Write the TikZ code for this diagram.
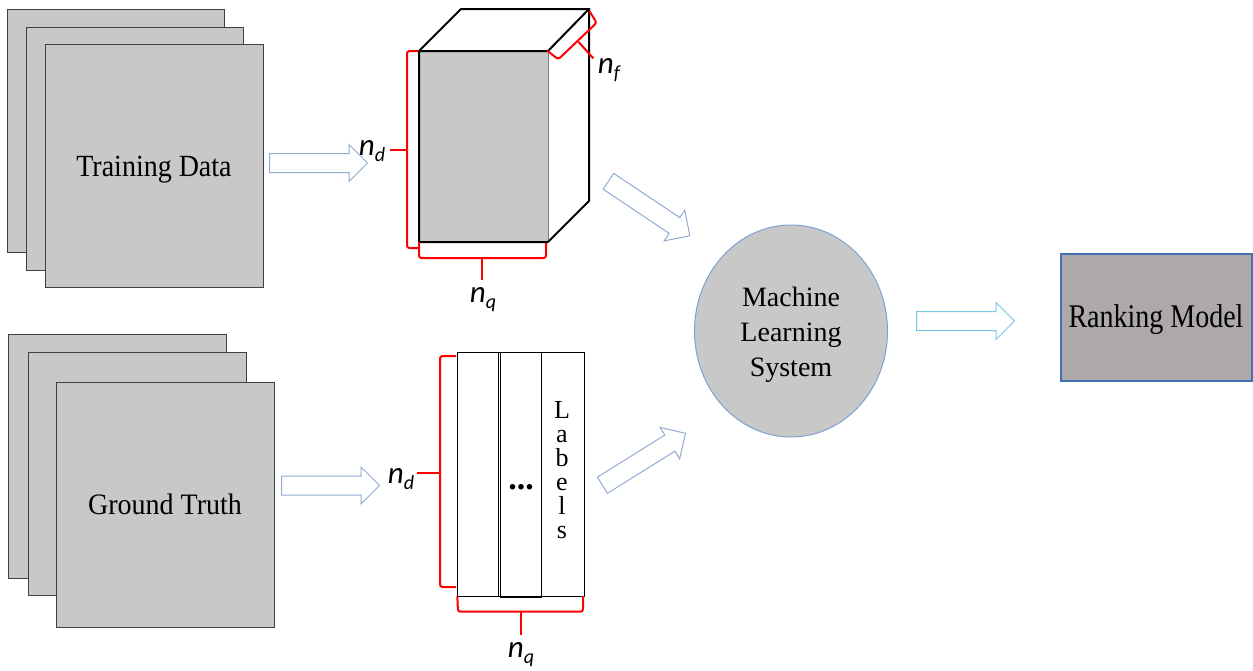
\documentclass[tikz,border=0pt]{standalone}
\usepackage{fontspec}
\setmainfont{Liberation Serif}
\newfontfamily\calfont{Carlito}
\usetikzlibrary{shapes.geometric,shapes.arrows}

\definecolor{pagegray}{RGB}{200,200,200}
\definecolor{pageedge}{RGB}{64,64,64}
\definecolor{modelgray}{RGB}{173,169,168}
\definecolor{modeledge}{RGB}{65,113,177}
\definecolor{flowblue}{RGB}{145,172,212}
\definecolor{flowcyan}{RGB}{120,198,232}
\definecolor{ellipseedge}{RGB}{125,163,206}
\definecolor{bracered}{RGB}{255,0,0}

% dimension label: italic n with a lowered index
\newcommand{\dimlabel}[1]{{\calfont\itshape n\raisebox{-6pt}{\fontsize{20}{20}\selectfont #1}}}

\begin{document}
\begin{tikzpicture}[x=1pt,y=-1pt,
  page/.style={draw=pageedge, fill=pagegray, line width=1.2pt, anchor=north west, inner sep=0pt},
  bigtext/.style={font=\fontsize{28}{35}\selectfont},
  basetext/.style={anchor=base, inner sep=0pt, font=\fontsize{28}{35}\selectfont},
  blockarrow/.style={single arrow, draw=flowblue, fill=white, line width=1pt,
    inner xsep=0pt, inner ysep=9pt, single arrow head extend=9pt, minimum height=98pt, anchor=tail},
  brace/.style={draw=bracered, line width=2pt, rounded corners=2.5pt},
  dim/.style={inner sep=0pt, anchor=base, font=\fontsize{31}{31}\selectfont},
  thinline/.style={draw=black, line width=0.8pt}]

% canvas
\fill[white] (0,0) rectangle (1253,670);
\useasboundingbox (0,0) rectangle (1253,670);

% ---- training data stack ----
\node[page, minimum width=217pt, minimum height=243pt] (td1) at (7,9) {};
\node[page, minimum width=217pt, minimum height=243pt] (td2) at (26,27) {};
\node[page, minimum width=218pt, minimum height=243pt] (td3) at (45,44) {};
\node[basetext] (tdtext) at (154,176) {\scalebox{1}[1.1]{Training Data}};

% ---- ground truth stack ----
\node[page, minimum width=218pt, minimum height=244pt] (gt1) at (8,334) {};
\node[page, minimum width=218pt, minimum height=243pt] (gt2) at (28,352) {};
\node[page, minimum width=218pt, minimum height=245pt] (gt3) at (56,382) {};
\node[basetext] (gttext) at (165,514) {\scalebox{1}[1.06]{Ground Truth}};

% ---- feature cube ----
\fill[pagegray] (419,51) rectangle (548,242);
\draw[line width=0.8pt, gray] (548,51) -- (548,242);
\draw[line width=2pt, line join=miter] (548,242) -- (419,242) -- (419,51) -- (461,9) -- (589,9) -- (589,201) -- (548,242);
\draw[line width=2pt] (419,51) -- (548,51) -- (589,9);

% cube dimensions
\draw[brace] (418,51) -- (407,51) -- (407,248) -- (418,248);
\draw[brace] (407,150) -- (390,150);
\draw[brace] (419,242) -- (419,258) -- (546,258) -- (546,243);
\draw[brace] (482,258) -- (482,280);
\draw[brace] (547.3,50.7) -- (558.3,59.3) -- (596.7,22.7) -- (589.3,11);
\draw[brace] (578.3,41.7) -- (593.3,58.3);
\node[dim] (nd1) at (372,155) {\dimlabel{d}};
\node[dim] (nq1) at (483,302) {\dimlabel{q}};
\node[dim] (nf) at (609,73) {\dimlabel{f}};

% ---- label matrix ----
\draw[thinline] (457,352) rectangle (584,596);
\draw[thinline] (500,352) rectangle (541,597);
\draw[thinline] (498,352) -- (498,596);
\node[anchor=base, inner sep=0pt, font=\fontsize{34}{34}\selectfont] (dots) at (521,489) {\textbf{...}};
\foreach \ch [count=\i from 0] in {L,a,b,e,l,s}
  \node[anchor=base, inner sep=0pt, font=\fontsize{26}{26}\selectfont] (lab\i) at (562,418+24*\i) {\ch};

% label matrix dimensions
\draw[brace] (456,356) -- (440,356) -- (440,587) -- (456,587);
\draw[brace] (440,473) -- (417,473);
\draw[brace] (457.3,596) -- (458,611.7) -- (583,611.7) -- (583,596);
\draw[brace] (520.7,611.7) -- (520.7,635);
\node[dim] (nd2) at (401,483) {\dimlabel{d}};
\node[dim] (nq2) at (521,657) {\dimlabel{q}};

% ---- learner and output ----
\node[ellipse, draw=ellipseedge, fill=pagegray, line width=1pt, minimum width=193pt, minimum height=212pt,
      inner sep=0pt] (mls) at (791,331) {};
\node[align=center, inner sep=0pt, bigtext] (mlstext) at (791,335) {Machine\\Learning\\System};
\node[draw=modeledge, fill=modelgray, line width=2pt, minimum width=191pt, minimum height=127pt,
      inner sep=0pt] (rank) at (1156.5,317.5) {};
\node[basetext] (ranktext) at (1156,327) {\scalebox{1}[1.18]{Ranking Model}};

% ---- flow arrows (placed by their tails) ----
\node[blockarrow] (a1) at (269,163) {};
\node[blockarrow] (a2) at (281,485.5) {};
\node[blockarrow, rotate=-33.8] (a3) at (608,181) {};
\node[blockarrow, rotate=32] (a4) at (602,485.5) {};
\node[blockarrow, draw=flowcyan] (a5) at (916,321) {};

\end{tikzpicture}
\end{document}
